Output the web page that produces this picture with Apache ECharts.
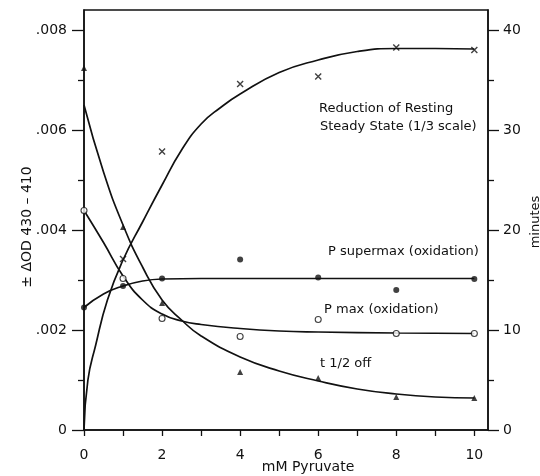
<!DOCTYPE html>
<html>
<head>
<meta charset="utf-8">
<script src="https://cdn.jsdelivr.net/npm/echarts@6/dist/echarts.min.js"></script>
<style>
html,body{margin:0;padding:0;background:#fff;}
#chart{width:540px;height:476px;}
</style>
</head>
<body>
<div id="chart"></div>
<script>
// ---- data ----
// x axis (mM Pyruvate)
const xTickValues = [0,1,2,3,4,5,6,7,8,9,10];
const xLabelValues = [0,2,4,6,8,10];
// left axis (± ΔOD 430-410)
const leftMajorTicks = [0,0.002,0.004,0.006,0.008];
const leftMinorTicks = [0.001,0.003,0.005,0.007];
const leftTickLabels = ['0','.002','.004','.006','.008'];
// right axis (minutes)
const rightMajorTicks = [0,10,20,30,40];
const rightMinorTicks = [5,15,25,35];

// Reduction of Resting Steady State (1/3 scale) — left axis
const reductionX = [1,2,4,6,8,10];
const reductionY = [0.00342,0.00557,0.00692,0.00707,0.00765,0.0076];
const reductionFitX = [0,0.1,0.3,0.6,1,1.5,2,2.5,3,3.5,4,5,6,7,8,9,10];
const reductionFitY = [0,0.0010,0.0017,0.0026,0.0034,0.00416,0.0049,0.0056,0.00612,0.00645,0.00672,0.00715,0.0074,0.00757,0.00763,0.00763,0.00762];

// t 1/2 off — right axis (minutes)
const tHalfX = [0,1,2,4,6,8,10];
const tHalfY = [36.2,20.3,12.7,5.8,5.2,3.3,3.2];
const tHalfFitX = [0,0.5,1,1.5,2,2.5,3,4,5,6,7,8,9,10];
const tHalfFitY = [32.5,25.8,20.5,16.3,13,11,9.4,7.3,5.9,4.9,4.1,3.6,3.3,3.2];

// P supermax (oxidation) — left axis
const superX = [0,1,2,4,6,8,10];
const superY = [0.00245,0.00288,0.00303,0.00341,0.00305,0.0028,0.00302];
const superFitX = [0,0.5,1,1.5,2,3,4,6,8,10];
const superFitY = [0.00245,0.00272,0.00288,0.00298,0.00302,0.00303,0.00303,0.00303,0.00303,0.00303];

// P max (oxidation) — left axis
const pmaxX = [0,1,2,4,6,8,10];
const pmaxY = [0.00439,0.00303,0.00223,0.00187,0.00221,0.00193,0.00193];
const pmaxFitX = [0,0.5,1,1.5,2,2.5,3,4,5,6,8,10];
const pmaxFitY = [0.00439,0.00375,0.00308,0.0026,0.00232,0.00218,0.00211,0.00203,0.00198,0.00196,0.00194,0.00193];

// ---- build ----
const zip = (xs, ys) => xs.map((x, i) => [x, ys[i]]);
const FONT = 'DejaVu Sans';
const INK = '#111';

const leftLabelFmt = v => {
  const i = leftMajorTicks.findIndex(t => Math.abs(t - v) < 1e-9);
  return i >= 0 ? leftTickLabels[i] : '';
};

const lineSeries = (data, yIdx) => ({
  type: 'line', data, yAxisIndex: yIdx, smooth: 0.5,
  showSymbol: false, symbol: 'none', silent: true,
  lineStyle: { color: INK, width: 1.7 }, z: 2
});

const crossPath = 'path://M0,0L10,10M10,0L0,10';

const option = {
  animation: false,
  backgroundColor: '#fff',
  grid: { left: 84, right: 52, top: 10, bottom: 46, show: true, borderColor: INK, borderWidth: 1.5, backgroundColor: 'transparent' },
  xAxis: {
    type: 'value', min: 0, max: 10.35,
    axisLine: { show: true, onZero: false, lineStyle: { color: INK, width: 1.5 } },
    axisTick: { show: true, length: 6, customValues: xTickValues, lineStyle: { color: INK, width: 1.3 } },
    axisLabel: { show: true, customValues: xLabelValues, margin: 18, color: INK, fontFamily: FONT, fontSize: 14 },
    splitLine: { show: false }
  },
  yAxis: [
    {
      type: 'value', position: 'left', min: 0, max: 0.0084,
      axisLine: { show: true, onZero: false, lineStyle: { color: INK, width: 1.5 } },
      axisTick: { show: true, length: 12, customValues: leftMajorTicks, lineStyle: { color: INK, width: 1.3 } },
      axisLabel: { show: true, customValues: leftMajorTicks, formatter: leftLabelFmt, margin: 17, color: INK, fontFamily: FONT, fontSize: 14 },
      splitLine: { show: false }
    },
    {
      type: 'value', position: 'left', offset: 0, min: 0, max: 0.0084,
      axisLine: { show: false },
      axisTick: { show: true, length: 6, customValues: leftMinorTicks, lineStyle: { color: INK, width: 1.3 } },
      axisLabel: { show: false },
      splitLine: { show: false }
    },
    {
      type: 'value', position: 'right', min: 0, max: 42,
      axisLine: { show: true, onZero: false, lineStyle: { color: INK, width: 1.5 } },
      axisTick: { show: true, length: 11, customValues: rightMajorTicks, lineStyle: { color: INK, width: 1.3 } },
      axisLabel: { show: true, customValues: rightMajorTicks, margin: 15, color: INK, fontFamily: FONT, fontSize: 14 },
      splitLine: { show: false }
    },
    {
      type: 'value', position: 'right', offset: 0, min: 0, max: 42,
      axisLine: { show: false },
      axisTick: { show: true, length: 6, customValues: rightMinorTicks, lineStyle: { color: INK, width: 1.3 } },
      axisLabel: { show: false },
      splitLine: { show: false }
    }
  ],
  series: [
    lineSeries(zip(reductionFitX, reductionFitY), 0),
    lineSeries(zip(tHalfFitX, tHalfFitY), 2),
    lineSeries(zip(superFitX, superFitY), 0),
    lineSeries(zip(pmaxFitX, pmaxFitY), 0),
    { type: 'scatter', data: zip(reductionX, reductionY), yAxisIndex: 0, symbol: crossPath, symbolSize: 6,
      itemStyle: { color: 'none', borderColor: INK, borderWidth: 1.4 }, z: 5, silent: true },
    { type: 'scatter', data: zip(tHalfX, tHalfY), yAxisIndex: 2, symbol: 'triangle', symbolSize: 6,
      itemStyle: { color: INK }, z: 5, silent: true },
    { type: 'scatter', data: zip(superX, superY), yAxisIndex: 0, symbol: 'circle', symbolSize: 6,
      itemStyle: { color: INK }, z: 5, silent: true },
    { type: 'scatter', data: zip(pmaxX, pmaxY), yAxisIndex: 0, symbol: 'circle', symbolSize: 6,
      itemStyle: { color: '#fff', borderColor: INK, borderWidth: 1.1 }, z: 5, silent: true }
  ],
  graphic: [
    { type: 'text', left: 319, top: 102, style: { text: 'Reduction of Resting', font: '13px "DejaVu Sans"', fill: INK } },
    { type: 'text', left: 320, top: 120, style: { text: 'Steady State (1/3 scale)', font: '13px "DejaVu Sans"', fill: INK } },
    { type: 'text', left: 328, top: 245, style: { text: 'P supermax (oxidation)', font: '13px "DejaVu Sans"', fill: INK } },
    { type: 'text', left: 324, top: 303, style: { text: 'P max (oxidation)', font: '13px "DejaVu Sans"', fill: INK } },
    { type: 'text', left: 320, top: 357, style: { text: 't 1/2 off', font: '13px "DejaVu Sans"', fill: INK } },
    { type: 'text', x: 308, y: 467, style: { text: 'mM Pyruvate', font: '14px "DejaVu Sans"', fill: INK, align: 'center', verticalAlign: 'middle' } },
    { type: 'text', x: 27, y: 227, rotation: Math.PI / 2, style: { text: '± ΔOD 430 – 410', font: '14px "DejaVu Sans"', fill: INK, align: 'center', verticalAlign: 'middle' } },
    { type: 'text', x: 536, y: 222, rotation: Math.PI / 2, style: { text: 'minutes', font: '13px "DejaVu Sans"', fill: INK, align: 'center', verticalAlign: 'middle' } }
  ]
};

const chart = echarts.init(document.getElementById('chart'), null, { renderer: 'canvas' });
chart.setOption(option);
</script>
</body>
</html>
